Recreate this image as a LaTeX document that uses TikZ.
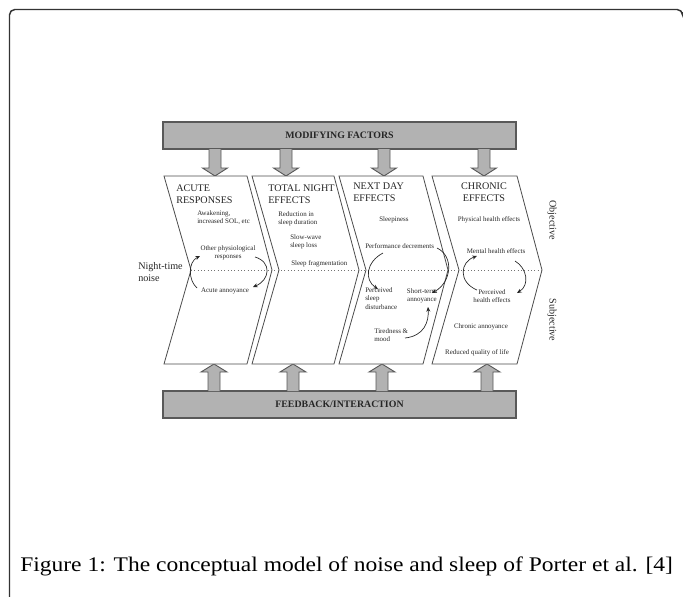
\documentclass[tikz,border=0pt]{standalone}
\usepackage{fontspec}
\setmainfont{Liberation Serif}
\usetikzlibrary{arrows.meta}
\tikzset{
  px/.style={x=0.75pt,y=-0.75pt},
  chev/.style={draw=black!70,line width=0.6pt,fill=white},
  bar/.style={draw=black!65,line width=0.8pt,fill=black!30},
  blk/.style={draw=black!65,line width=0.7pt,fill=black!30},
  hd/.style={font=\fontsize{7.6}{8.4}\selectfont,text=black!85,align=left,inner sep=0pt,anchor=north west},
  it/.style={font=\fontsize{5.2}{6.4}\selectfont,text=black!85,align=center,inner sep=0pt},
  itl/.style={it,align=left,anchor=west},
  carrow/.style={-{Stealth[length=3.5pt,width=3pt]},line width=0.5pt,draw=black!85},
}
\newcommand{\chevpath}[2]{(#1,176) -- ++(#2,0) -- ++(25,94) -- ++(-25,94) -- ++(-#2,0) -- ++(27,-94) -- cycle}
\newcommand{\downarr}[1]{(#1-6,149) -- (#1-6,168) -- (#1-12.5,168) -- (#1,176) -- (#1+12.5,168) -- (#1+6,168) -- (#1+6,149)}
\newcommand{\uparr}[1]{(#1-6,391) -- (#1-6,372) -- (#1-13,372) -- (#1,364) -- (#1+13,372) -- (#1+6,372) -- (#1+6,391)}
\begin{document}
\begin{tikzpicture}[px]
\useasboundingbox (0,0) rectangle (683,597);
% outer frame
\draw[black!80,line width=1.1pt,rounded corners=4pt] (9.5,600) -- (9.5,9.5) -- (682.5,9.5) -- (682.5,12);
% bars
\node[bar,minimum width=353*0.75pt,minimum height=27*0.75pt,inner sep=0pt] (mod) at (339.5,135.5) {};
\node[font=\bfseries\fontsize{7.4}{8}\selectfont,text=black!85] at (mod) {MODIFYING FACTORS};
\node[bar,minimum width=353*0.75pt,minimum height=27*0.75pt,inner sep=0pt] (fb) at (339.5,404.5) {};
\node[font=\bfseries\fontsize{7.4}{8}\selectfont,text=black!85] at (fb) {FEEDBACK/INTERACTION};
% block arrows
\foreach \c in {215,286,384,484} {\filldraw[blk] \downarr{\c};}
\foreach \c in {214,293,382,487} {\filldraw[blk] \uparr{\c};}
% chevrons
\filldraw[chev] \chevpath{164}{83};
\filldraw[chev] \chevpath{252}{82};
\filldraw[chev] \chevpath{339}{84};
\filldraw[chev] \chevpath{432}{85};
% middle dotted line
\draw[black!55,dotted,line width=0.5pt] (191,270) -- (542,270);
% left label
\node[font=\fontsize{7.6}{8.4}\selectfont,text=black!85,align=left,anchor=west,inner sep=0pt] (noise) at (138,272) {Night-time\\noise};
% chevron 1
\node[hd] (h1) at (176,185) {ACUTE\\RESPONSES};
\node[it,align=left,anchor=north west] (awk) at (197,210) {Awakening,\\increased SOL, etc};
\node[it] (oth) at (228,253) {Other physiological\\responses};
\node[it] (acu) at (225,291) {Acute annoyance};
\coordinate (a1s) at (255,257); \coordinate (a1e) at (253,287);
\coordinate (b1s) at (197,288); \coordinate (b1e) at (200,256);
\draw[carrow] (a1s) .. controls (272,262) and (270,280) .. (a1e);
\draw[carrow] (b1s) .. controls (188,280) and (188,262) .. (b1e);
% chevron 2
\node[hd] (h2) at (268,185) {TOTAL NIGHT\\EFFECTS};
\node[it,align=left,anchor=north west] (red) at (278,211) {Reduction in\\sleep duration};
\node[it,align=left,anchor=north west] (sws) at (290,234) {Slow-wave\\sleep loss};
\node[itl] (frag) at (291,264) {Sleep fragmentation};
% chevron 3
\node[hd] (h3) at (353,183) {NEXT DAY\\EFFECTS};
\node[it] (slp) at (394,220) {Sleepiness};
\node[itl] (perf) at (365,246) {Performance decrements};
\node[it,align=left,anchor=north west] (psd) at (365,287) {Perceived\\sleep\\disturbance};
\node[it] (sta) at (422,296) {Short-term\\annoyance};
\node[it,align=left,anchor=north west] (tir) at (374,328) {Tiredness \&\\mood};
\coordinate (c3a) at (383,253); \coordinate (c3b) at (378,289);
\coordinate (c3c) at (437,248); \coordinate (c3d) at (432,293);
\coordinate (c3e) at (405,338); \coordinate (c3f) at (428,307);
\draw[carrow] (c3a) .. controls (366,262) and (364,280) .. (c3b);
\draw[carrow] (c3c) .. controls (454,256) and (452,282) .. (c3d);
\draw[carrow] (c3e) .. controls (424,336) and (429,322) .. (c3f);
% chevron 4
\node[hd,align=center,anchor=north] (h4) at (484,183) {CHRONIC\\EFFECTS};
\node[it] (phy) at (489,220) {Physical health effects};
\node[it] (men) at (496,251) {Mental health effects};
\node[it] (phe) at (492,296) {Perceived\\health effects};
\node[it] (chr) at (481,327) {Chronic annoyance};
\node[it] (rql) at (477,353) {Reduced quality of life};
\coordinate (d4a) at (477,290); \coordinate (d4b) at (477,256);
\coordinate (d4c) at (515,261); \coordinate (d4d) at (517,293);
\draw[carrow] (d4a) .. controls (458,282) and (460,262) .. (d4b);
\draw[carrow] (d4c) .. controls (527,268) and (530,285) .. (d4d);
% side labels
\node[font=\fontsize{7.6}{8}\selectfont,text=black!85,rotate=-90,inner sep=0pt] (obj) at (552,220) {Objective};
\node[font=\fontsize{7.6}{8}\selectfont,text=black!85,rotate=-90,inner sep=0pt] (sub) at (552,320) {Subjective};
% caption
\node[font=\fontsize{15.6}{17}\selectfont,anchor=west,inner sep=0pt,xscale=1.13] (cap) at (20,566) {Figure 1: The conceptual model of noise and sleep of Porter et al. [4]};
\end{tikzpicture}
\end{document}
